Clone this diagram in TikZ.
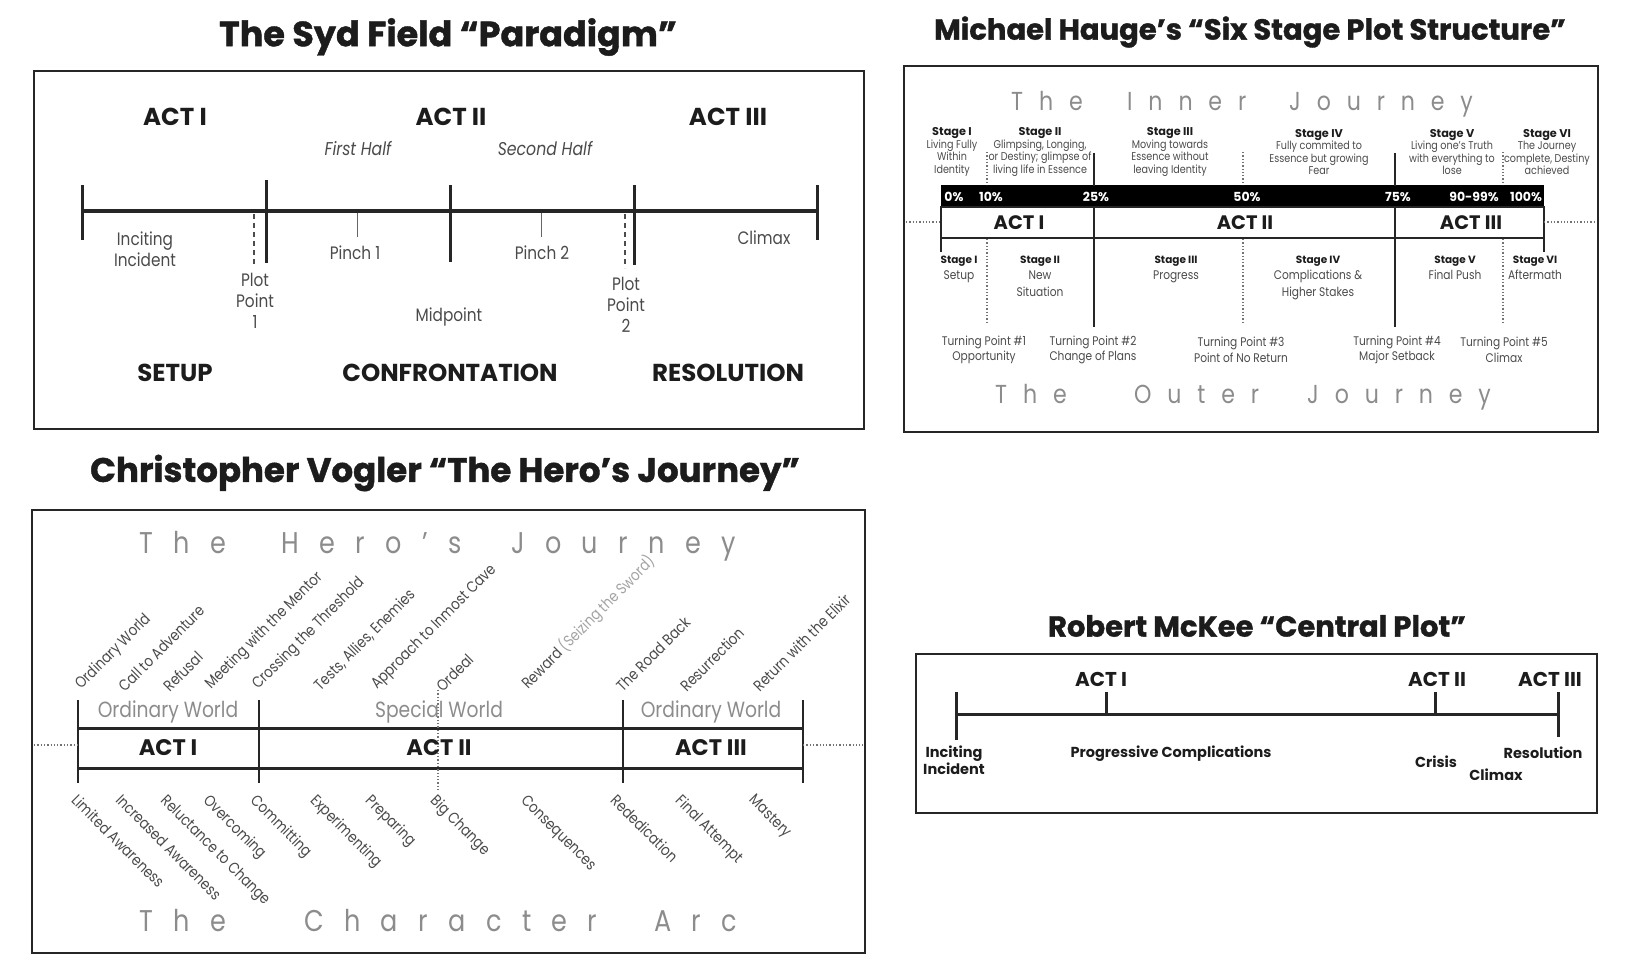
\documentclass[tikz,border=0pt]{standalone}
\usepackage{fontspec}
\setmainfont{Poppins}[FakeStretch=0.85, BoldFeatures={FakeStretch=1.0}]
\usetikzlibrary{positioning}
\definecolor{ink}{HTML}{1C1C1C}
\definecolor{soft}{HTML}{4A4A4A}
\definecolor{pale}{HTML}{8C8C8C}

\begin{document}
\begin{tikzpicture}[x=1pt, y=-1pt]
    % --- CONFIGURAZIONE ---
    \tikzset{
        title_style/.style={inner sep=0pt, text=ink, font=\bfseries\fontsize{#1}{#1}\selectfont\addfontfeature{FakeBold=1.2}},
        box_style/.style={draw=black!85, line width=2.8pt},
        act_style/.style={inner sep=0pt, text=ink, font=\bfseries\fontsize{#1}{#1}\selectfont},
        act_style/.default=24.5,
        label_style/.style={inner sep=0pt, text=soft, align=center, font=\fontsize{18}{21}\selectfont},
        spaced_big/.style={inner sep=0pt, anchor=base west, text=pale, font=\fontsize{30}{30}\selectfont\addfontfeature{LetterSpace=68}},
        spaced_small/.style={inner sep=0pt, anchor=base west, text=pale, font=\fontsize{26}{26}\selectfont\addfontfeature{LetterSpace=61}},
        line_style/.style={line width=3.6pt, black!85},
        tick_style/.style={line width=3pt, black!85},
        thin_tick/.style={line width=0.8pt, black!60},
        dash_style/.style={line width=1.6pt, black!70, dash pattern=on 5pt off 4pt},
        dot_style/.style={line width=1.3pt, black!55, dotted},
        stage_top/.style={inner sep=0pt, text=soft, align=center, font=\fontsize{11.3}{12.6}\selectfont},
        stage_low/.style={inner sep=0pt, text=soft, align=center, anchor=north, font=\fontsize{12.5}{16.3}\selectfont},
        turn_style/.style={inner sep=0pt, text=soft, align=center, font=\fontsize{12.5}{15.5}\selectfont},
        pct_style/.style={inner sep=0pt, text=white, font=\bfseries\fontsize{12.5}{14}\selectfont},
        up_label/.style={inner sep=0pt, anchor=south west, rotate=45, text=soft, font=\fontsize{15.5}{17}\selectfont},
        down_label/.style={inner sep=0pt, anchor=north west, rotate=-45, text=soft, font=\fontsize{15.5}{17}\selectfont},
        world_style/.style={inner sep=0pt, text=pale, font=\fontsize{22}{24}\selectfont},
        mk_label/.style={inner sep=0pt, text=ink, align=center, font=\bfseries\fontsize{14.5}{16.5}\selectfont}
    }
    \newcommand{\stg}[1]{{\bfseries\color{ink}#1}}

    \useasboundingbox (0,0) rectangle (1633,964);

    % ===================================================
    % 1. SYD FIELD
    % ===================================================
    \begin{scope}
        \node[title_style=35] (sf_title) at (448,37) {The Syd Field “Paradigm”};
        \draw[box_style] (34,71) rectangle (864,429);

        \node[act_style] (sf_act1) at (175,117) {ACT I};
        \node[act_style] (sf_act2) at (451,117) {ACT II};
        \node[act_style] (sf_act3) at (728,117) {ACT III};
        \node[label_style, font=\itshape\fontsize{18.5}{21}\selectfont] (sf_half1) at (358,149) {First Half};
        \node[label_style, font=\itshape\fontsize{18.5}{21}\selectfont] (sf_half2) at (545,149) {Second Half};

        % linea del tempo
        \coordinate (sf_l) at (82,211);
        \coordinate (sf_r) at (817,211);
        \draw[line_style] (sf_l) -- (sf_r);
        \foreach \x/\t/\b in {82/185/240, 266/180/263, 450/185/262, 634/185/265, 817/185/240} {
            \draw[tick_style] (\x,\t) -- (\x,\b);
        }
        \draw[dash_style] (254,214) -- (254,266);
        \draw[dash_style] (625,214) -- (625,268);
        \draw[thin_tick] (357,213) -- (357,237);
        \draw[thin_tick] (541,213) -- (541,237);

        \node[label_style] (sf_inc) at (145,249) {Inciting\\Incident};
        \node[label_style] (sf_p1) at (355,253) {Pinch 1};
        \node[label_style] (sf_p2) at (542,253) {Pinch 2};
        \node[label_style] (sf_clx) at (764,238) {Climax};
        \node[label_style] (sf_pp1) at (255,301) {Plot\\Point\\1};
        \node[label_style] (sf_pp2) at (626,305) {Plot\\Point\\2};
        \node[label_style] (sf_mid) at (449,317) {Midpoint};

        \node[act_style] (sf_setup) at (175,373) {SETUP};
        \node[act_style] (sf_conf) at (450,373) {CONFRONTATION};
        \node[act_style] (sf_res) at (728,373) {RESOLUTION};
    \end{scope}

    % ===================================================
    % 2. MICHAEL HAUGE
    % ===================================================
    \begin{scope}
        \node[title_style=29] (mh_title) at (1250,32) {Michael Hauge’s “Six Stage Plot Structure”};
        \draw[box_style] (904,66) rectangle (1598,432);

        \foreach \x/\w [count=\i] in {1011/The, 1127/Inner, 1289/Journey} {
            \node[spaced_small] (mh_inner\i) at (\x,110) {\w};
        }
        \foreach \x/\w [count=\i] in {995/The, 1134/Outer, 1307/Journey} {
            \node[spaced_small] (mh_outer\i) at (\x,403) {\w};
        }

        % stadi interiori
        \foreach \x/\txt [count=\i] in {
            952/{\stg{Stage I}\\Living Fully\\Within\\Identity},
            1040/{\stg{Stage II}\\Glimpsing, Longing,\\or Destiny; glimpse of\\living life in Essence},
            1170/{\stg{Stage III}\\Moving towards\\Essence without\\leaving Identity},
            1319/{\stg{Stage IV}\\Fully commited to\\Essence but growing\\Fear},
            1452/{\stg{Stage V}\\Living one’s Truth\\with everything to\\lose},
            1547/{\stg{Stage VI}\\The Journey\\complete, Destiny\\achieved}%
        } {
            \node[stage_top] (mh_in\i) at (\x,152) {\txt};
        }

        % barra nera e atti
        \fill[black] (941,185) rectangle (1544,207);
        \draw[line width=2pt, black!85] (941,207) rectangle (1544,238);
        \draw[line width=2pt, black!85] (1094,153) -- (1094,327);
        \draw[line width=2pt, black!85] (1395,153) -- (1395,327);
        \fill[black] (1085,186) rectangle (1104,206);
        \fill[black] (1386,186) rectangle (1405,206);
        \foreach \x/\p [count=\i] in {954/0\%, 991/10\%, 1096/25\%, 1247/50\%, 1398/75\%, 1474/90-99\%, 1526/100\%} {
            \node[pct_style] (mh_pct\i) at (\x,197) {\p};
        }
        \draw[line width=2pt, black!85] (941,238) -- (941,252);
        \draw[line width=2pt, black!85] (1544,238) -- (1544,252);
        \foreach \x in {987, 1243, 1503} {
            \draw[dot_style] (\x,152) -- (\x,185);
            \draw[dot_style] (\x,239) -- (\x,323);
        }
        \draw[dot_style] (906,222) -- (941,222);
        \draw[dot_style] (1544,222) -- (1596,222);

        \node[act_style=19.5] (mh_act1) at (1019,223) {ACT I};
        \node[act_style=19.5] (mh_act2) at (1245,223) {ACT II};
        \node[act_style=19.5] (mh_act3) at (1471,223) {ACT III};

        % stadi esteriori
        \foreach \x/\txt [count=\i] in {
            959/{{\fontsize{10.5}{16.3}\selectfont\stg{Stage I}}\\Setup},
            1040/{{\fontsize{10.5}{16.3}\selectfont\stg{Stage II}}\\New\\Situation},
            1176/{{\fontsize{10.5}{16.3}\selectfont\stg{Stage III}}\\Progress},
            1318/{{\fontsize{10.5}{16.3}\selectfont\stg{Stage IV}}\\Complications \&\\Higher Stakes},
            1455/{{\fontsize{10.5}{16.3}\selectfont\stg{Stage V}}\\Final Push},
            1535/{{\fontsize{10.5}{16.3}\selectfont\stg{Stage VI}}\\Aftermath}%
        } {
            \node[stage_low] (mh_out\i) at (\x,256) {\txt};
        }

        % punti di svolta
        \foreach \x/\txt [count=\i] in {
            984/{Turning Point \#1\\Opportunity},
            1093/{Turning Point \#2\\Change of Plans},
            1241/{Turning Point \#3\\Point of No Return},
            1397/{Turning Point \#4\\Major Setback},
            1504/{Turning Point \#5\\Climax}%
        } {
            \node[turn_style] (mh_tp\i) at (\x,350) {\txt};
        }
    \end{scope}

    % ===================================================
    % 3. CHRISTOPHER VOGLER
    % ===================================================
    \begin{scope}
        \node[title_style=34] (cv_title) at (445,473) {Christopher Vogler “The Hero’s Journey”};
        \draw[box_style] (32,510) rectangle (865,953);

        \foreach \x/\w [count=\i] in {139/The, 281/Hero’s, 511/Journey} {
            \node[spaced_big] (cv_hero\i) at (\x,553) {\w};
        }
        \foreach \x/\w [count=\i] in {139/The, 304/Character, 654/Arc} {
            \node[spaced_big] (cv_arc\i) at (\x,931) {\w};
        }

        % tappe del viaggio
        \foreach \x/\txt [count=\i] in {
            84/Ordinary World, 125/Call to Adventure, 170/Refusal,
            214/Meeting with the Mentor, 261/Crossing the Threshold,
            322/{Tests, Allies, Enemies}, 380/Approach to Inmost Cave, 443/Ordeal,
            531/{Reward \textcolor{pale!80}{(Seizing the Sword)}}, 623/The Road Back,
            687/Resurrection, 760/Return with the Elixir%
        } {
            \node[up_label] (cv_up\i) at (\x,693) {\txt};
        }

        % struttura degli atti
        \foreach \x in {78, 259, 623, 803} {
            \draw[tick_style, line width=2.4pt] (\x,700) -- (\x,783);
        }
        \draw[line_style, line width=3pt] (78,728) -- (803,728);
        \draw[line_style, line width=3pt] (78,768) -- (803,768);
        \draw[dot_style] (438,690) -- (438,790);
        \draw[dot_style] (34,745) -- (78,745);
        \draw[dot_style] (803,745) -- (863,745);

        \node[world_style] (cv_w1) at (168,712) {Ordinary World};
        \node[world_style] (cv_w2) at (439,712) {Special World};
        \node[world_style] (cv_w3) at (711,712) {Ordinary World};
        \node[act_style=22.5] (cv_act1) at (168,748) {ACT I};
        \node[act_style=22.5] (cv_act2) at (439,748) {ACT II};
        \node[act_style=22.5] (cv_act3) at (711,748) {ACT III};

        % arco del personaggio
        \foreach \x/\txt [count=\i] in {
            79/Limited Awareness, 123/Increased Awareness, 168/Reluctance to Change,
            211/Overcoming, 258/Committing, 318/Experimenting, 373/Preparing,
            438/Big Change, 528/Consequences, 618/Rededication, 683/Final Attempt,
            756/Mastery%
        } {
            \node[down_label] (cv_down\i) at (\x,793) {\txt};
        }
    \end{scope}

    % ===================================================
    % 4. ROBERT MCKEE
    % ===================================================
    \begin{scope}
        \node[title_style=29] (rm_title) at (1257,626) {Robert McKee “Central Plot”};
        \draw[box_style] (916,654) rectangle (1597,813);

        \coordinate (rm_l) at (956,714);
        \coordinate (rm_r) at (1558,714);
        \draw[line_style, line width=3pt] (rm_l) -- (rm_r);
        \foreach \x/\t/\b in {956/692/740, 1106/692/714, 1435/692/714, 1558/692/737} {
            \draw[tick_style] (\x,\t) -- (\x,\b);
        }

        \node[act_style=20] (rm_act1) at (1101,679) {ACT I};
        \node[act_style=20] (rm_act2) at (1437,679) {ACT II};
        \node[act_style=20] (rm_act3) at (1550,679) {ACT III};

        \node[mk_label] (rm_inc) at (954,760) {Inciting\\Incident};
        \node[mk_label] (rm_prog) at (1171,754) {Progressive Complications};
        \node[mk_label] (rm_cris) at (1436,762) {Crisis};
        \node[mk_label] (rm_clx) at (1496,775) {Climax};
        \node[mk_label] (rm_res) at (1543,753) {Resolution};
    \end{scope}

\end{tikzpicture}
\end{document}
